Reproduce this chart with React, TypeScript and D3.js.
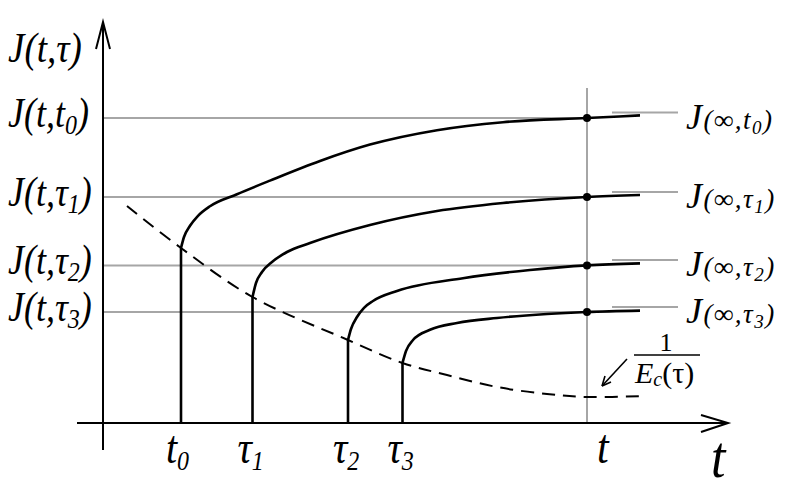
import React from "react";
import * as d3 from "d3";

// ---- data (arbitrary units) ----
const startTimes = [1.56, 2.99, 4.9, 5.99]; // t0, tau1, tau2, tau3
const tNow = 9.68;
const jAtT = [7.625, 5.65, 3.94, 2.775];
const jInf = [7.76, 5.775, 4.075, 2.9];
const asymX = [10.18, 11.5];

const curve0: [number, number][] = [
  [1.56, 4.375], [1.62, 4.65], [1.74, 4.93], [1.9, 5.18], [2.14, 5.42], [2.68, 5.72],
  [3.34, 6.06], [4.34, 6.55], [5.34, 6.96], [6.68, 7.32], [8.0, 7.52], [9.68, 7.625], [10.74, 7.69],
];
const curve1: [number, number][] = [
  [2.99, 3.15], [3.06, 3.5], [3.18, 3.775], [3.38, 4.025], [3.68, 4.275], [4.14, 4.5],
  [5.34, 4.95], [6.68, 5.3], [8.0, 5.5], [9.68, 5.65], [10.74, 5.7],
];
const curve2: [number, number][] = [
  [4.9, 2.075], [4.96, 2.35], [5.08, 2.65], [5.22, 2.88], [5.4, 3.05], [5.88, 3.3],
  [7.2, 3.62], [8.54, 3.825], [9.68, 3.94], [10.74, 3.99],
];
const curve3: [number, number][] = [
  [5.99, 1.5], [6.06, 1.8], [6.2, 2.075], [6.54, 2.33], [7.08, 2.5], [7.88, 2.625],
  [8.88, 2.725], [9.68, 2.775], [10.74, 2.81],
];
const creepCurves = [curve0, curve1, curve2, curve3];

const inverseModulus: [number, number][] = [
  [0.48, 5.425], [1.56, 4.375], [2.99, 3.15], [4.9, 2.075], [5.99, 1.5], [6.88, 1.2],
  [7.88, 0.9], [8.88, 0.725], [9.68, 0.65], [10.84, 0.675],
];

const leftLabels: string[][] = [
  ["J(t,t", "0", ")"],
  ["J(t,τ", "1", ")"],
  ["J(t,τ", "2", ")"],
  ["J(t,τ", "3", ")"],
];
const rightLabels: string[][] = [
  ["(∞,t", "0", ")"],
  ["(∞,τ", "1", ")"],
  ["(∞,τ", "2", ")"],
  ["(∞,τ", "3", ")"],
];
const xLabels: string[][] = [
  ["t", "0"],
  ["τ", "1"],
  ["τ", "2"],
  ["τ", "3"],
];

const W = 800;
const H = 499;
const FONT = "'Liberation Serif', 'DejaVu Serif', serif";

export default function App() {
  const x = d3.scaleLinear().domain([0, 12.5]).range([103, 728]);
  const y = d3.scaleLinear().domain([0, 10]).range([423, 23]);
  const smooth = d3
    .line<[number, number]>()
    .x((d) => x(d[0]))
    .y((d) => y(d[1]))
    .curve(d3.curveMonotoneX);
  const dashedLine = d3
    .line<[number, number]>()
    .x((d) => x(d[0]))
    .y((d) => y(d[1]))
    .curve(d3.curveCatmullRom.alpha(0.5));

  const gray = "#a6a6a6";

  const sub = (parts: string[], subSize: number, dy: number) =>
    parts.map((p, i) =>
      i % 2 === 1 ? (
        <tspan key={i} fontSize={subSize} dy={dy}>
          {p}
        </tspan>
      ) : (
        <tspan key={i} dy={i > 0 ? -dy : 0}>
          {p}
        </tspan>
      )
    );

  return (
    <svg
      width={W}
      height={H}
      style={{ position: "absolute", left: 0, top: 0, background: "#fff" }}
      fontFamily={FONT}
    >
      {/* horizontal reference lines */}
      {jAtT.map((v, i) => (
        <line key={"g" + i} x1={x(0)} x2={x(tNow)} y1={y(v)} y2={y(v)} stroke={gray} strokeWidth={2} />
      ))}
      {jInf.map((v, i) => (
        <line key={"a" + i} x1={x(asymX[0])} x2={x(asymX[1])} y1={y(v)} y2={y(v)} stroke={gray} strokeWidth={2} />
      ))}
      {/* vertical t line */}
      <line x1={x(tNow)} x2={x(tNow)} y1={y(0)} y2={y(8.375)} stroke={gray} strokeWidth={2} />

      {/* axes */}
      <line x1={77} x2={x(12.5)} y1={y(0)} y2={y(0)} stroke="#000" strokeWidth={2} />
      <line x1={x(0)} x2={x(0)} y1={450} y2={y(10.025)} stroke="#000" strokeWidth={2} />
      <path
        d={`M${x(12.5) - 27},${y(0) - 8} L${x(12.5)},${y(0)} L${x(12.5) - 27},${y(0) + 9}`}
        fill="none"
        stroke="#000"
        strokeWidth={2}
      />
      <path
        d={`M${x(0) - 7},${y(10.025) + 27} L${x(0)},${y(10.025)} L${x(0) + 7},${y(10.025) + 27}`}
        fill="none"
        stroke="#000"
        strokeWidth={2}
      />

      {/* dashed 1/Ec curve */}
      <path d={dashedLine(inverseModulus) || ""} fill="none" stroke="#000" strokeWidth={2} strokeDasharray="13 8" />

      {/* creep curves */}
      {creepCurves.map((c, i) => (
        <g key={"c" + i}>
          <line x1={x(startTimes[i])} x2={x(startTimes[i])} y1={y(0)} y2={y(c[0][1])} stroke="#000" strokeWidth={2.6} />
          <path d={smooth(c) || ""} fill="none" stroke="#000" strokeWidth={2.6} />
          <circle cx={x(tNow)} cy={y(jAtT[i])} r={4} fill="#000" />
        </g>
      ))}

      {/* arrow to the dashed curve */}
      <line x1={627} y1={359} x2={602} y2={386} stroke="#000" strokeWidth={1.6} />
      <path d="M602,386 L605,376 M602,386 L611,382" stroke="#000" strokeWidth={1.6} fill="none" />

      {/* fraction 1/Ec(tau) */}
      <text x={666} y={351} fontSize={26} textAnchor="middle">1</text>
      <line x1={634} x2={700} y1={355} y2={355} stroke="#000" strokeWidth={1.5} />
      <text x={635} y={383} fontSize={30}>
        <tspan fontStyle="italic">E</tspan>
        <tspan fontSize={20} dy={3} fontStyle="italic">c</tspan>
        <tspan dy={-3}>(τ)</tspan>
      </text>

      {/* y axis title */}
      <g transform="translate(8,62) scale(1,1.15)">
        <text x={0} y={0} fontSize={37} fontStyle="italic">J(t,τ)</text>
      </g>

      {/* left labels */}
      {leftLabels.map((l, i) => (
        <g key={"l" + i} transform={`translate(8,${y(jAtT[i]) + 9}) scale(1,1.15)`}>
          <text x={0} y={0} fontSize={36} fontStyle="italic">
            {sub(l, 24, 6)}
          </text>
        </g>
      ))}

      {/* right labels */}
      {rightLabels.map((l, i) => (
        <text
          key={"r" + i}
          x={686}
          y={y(jInf[i]) + 16}
          fontSize={27}
          fontStyle="italic"
          letterSpacing={1.5}
        >
          <tspan fontSize={36}>J</tspan>
          {sub(l, 19, 5)}
        </text>
      ))}

      {/* x labels */}
      {xLabels.map((l, i) => (
        <g key={"x" + i} transform={`translate(${x(startTimes[i]) - 15},463) scale(1,1.15)`}>
          <text x={0} y={0} fontSize={40} fontStyle="italic">
            {sub(l, 24, 6)}
          </text>
        </g>
      ))}
      <g transform={`translate(${x(tNow) + 10},463) scale(1,1.15)`}>
        <text x={0} y={0} fontSize={42} fontStyle="italic">t</text>
      </g>
      <g transform="translate(711,477) scale(1,1.15)">
        <text x={0} y={0} fontSize={52} fontStyle="italic">t</text>
      </g>
    </svg>
  );
}
